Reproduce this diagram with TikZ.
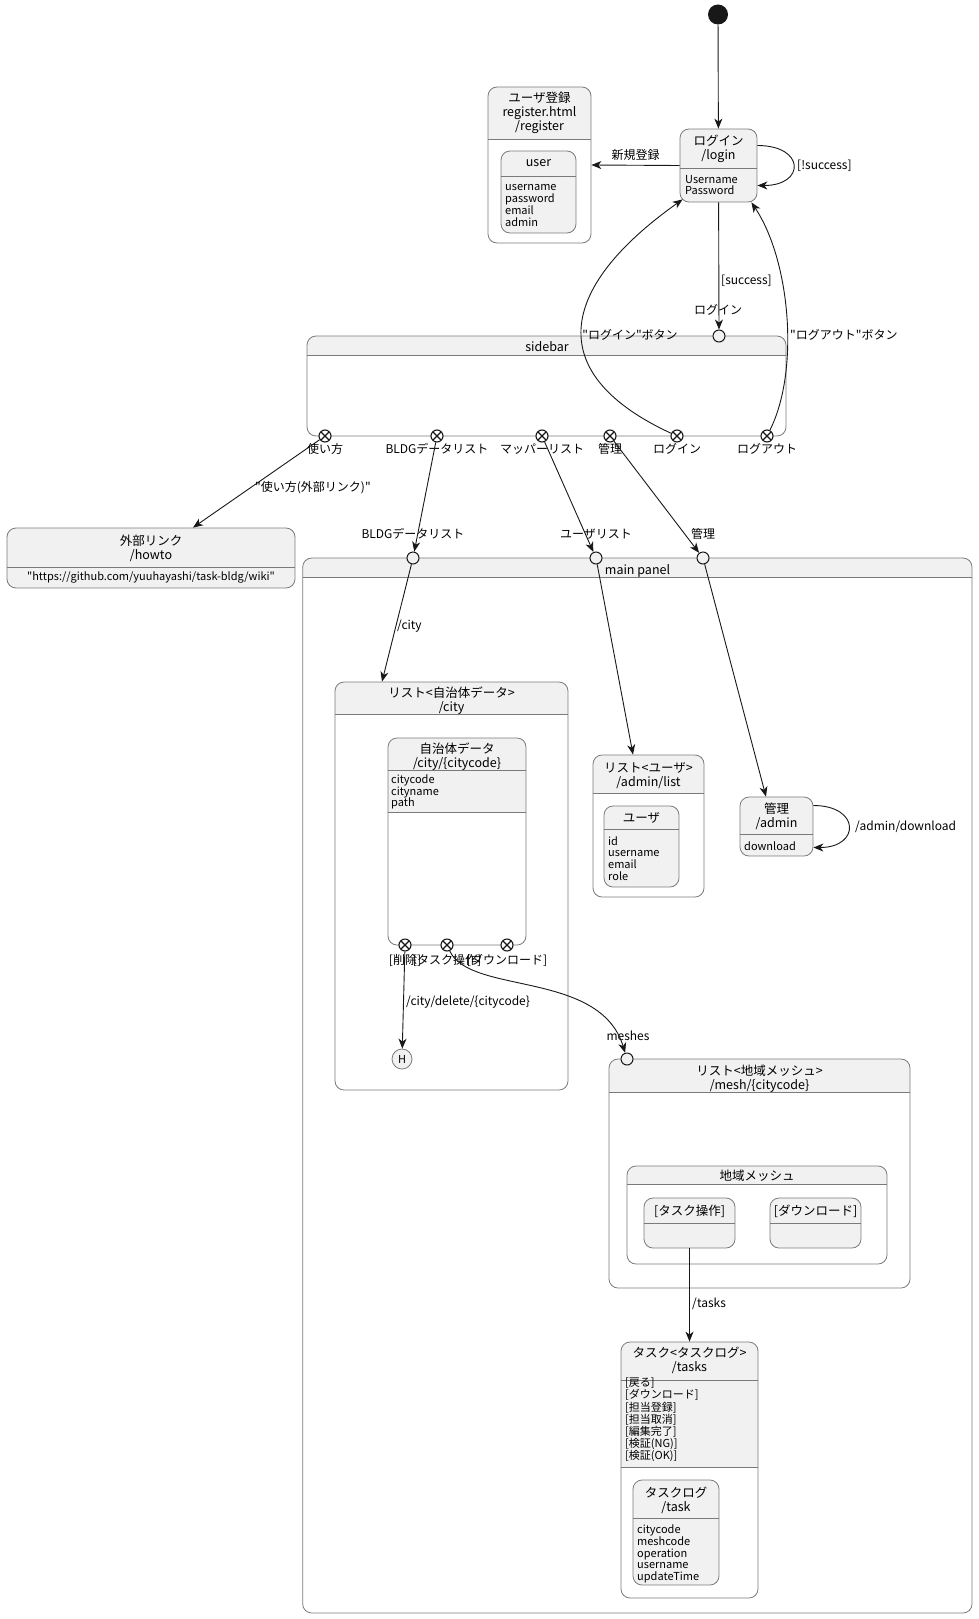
\documentclass[tikz,border=0pt]{standalone}
\usepackage{fontspec}
\setmainfont{Noto Sans CJK JP}[Ligatures=TeXOff]
\usetikzlibrary{arrows.meta, fit}
\definecolor{stfill}{HTML}{F1F1F1}
\definecolor{stedge}{HTML}{7A7A7A}
\definecolor{flowink}{HTML}{181818}
\tikzset{
  stframe/.style = {draw=stedge, line width=0.8pt, rounded corners=9pt, inner sep=0pt},
  stsep/.style   = {draw=stedge, line width=0.8pt},
}
% straight double quote
\newcommand{\dq}{\symbol{34}}
% name, left, top, right, bottom, fill down to, separator
\newcommand{\statebox}[7]{%
  \begin{scope}
    \clip[rounded corners=9pt] (#2,#3) rectangle (#4,#5);
    \fill[stfill] (#2,#3) rectangle (#4,#6);
  \end{scope}
  \draw[stsep] (#2,#7) -- (#4,#7);
  \node[stframe, fit={(#2,#3) (#4,#5)}] (#1) {};
}

\begin{document}
\begin{tikzpicture}[
    x=1pt, y=-1pt,
    >={Stealth[length=10pt, width=8pt, inset=3pt]},
    every node/.style={font=\fontsize{12}{14}\selectfont},
    title/.style  ={align=center, inner sep=0pt, font=\fontsize{12.5}{14}\selectfont},
    attr/.style   ={align=left, anchor=west, inner sep=0pt, font=\fontsize{11}{11.8}\selectfont},
    lbl/.style    ={inner sep=0pt, font=\fontsize{12}{14}\selectfont},
    initdot/.style={circle, fill=flowink, minimum size=20pt, inner sep=0pt},
    histnode/.style={circle, draw=stedge, line width=0.8pt, fill=stfill, minimum size=20pt,
                    inner sep=0pt, font=\fontsize{11}{12}\selectfont},
    entry/.style  ={circle, draw=flowink, line width=1pt, fill=stfill, minimum size=12pt, inner sep=0pt},
    exitpt/.style ={circle, draw=flowink, line width=1.1pt, fill=white, minimum size=12pt, inner sep=0pt,
                    path picture={\draw[line width=1.1pt]
                      (path picture bounding box.north west) -- (path picture bounding box.south east)
                      (path picture bounding box.north east) -- (path picture bounding box.south west);}},
    flow/.style   ={->, line width=0.9pt, draw=flowink}
  ]
  \useasboundingbox (0,0) rectangle (979,1619);

  %% --- Outer panels ---------------------------------------------------
  \statebox{sidebar}{307}{336}{786}{436}{355}{355}
  \node[title] (sidebart) at (547,347) {sidebar};
  \statebox{mainpanel}{302.7}{558}{972}{1613}{577}{577}
  \node[title] (mainpanelt) at (637.5,571) {main panel};

  %% --- Login and registration ------------------------------------------
  \node[initdot] (start) at (718,14.5) {};
  \statebox{login}{680}{129}{757}{202}{202}{168}
  \node[title] (logint) at (718.5,149) {ログイン\\/login};
  \node[attr] (loginf) at (685,185) {Username\\Password};
  \statebox{register}{488}{87}{591}{243}{139}{139}
  \node[title] (registert) at (539.5,113) {ユーザ登録\\register.html\\/register};
  \statebox{user}{501}{151}{576}{233}{233}{176}
  \node[title] (usert) at (538.5,163) {user};
  \node[attr] (userf) at (505,205.5) {username\\password\\email\\admin};

  %% --- External link ----------------------------------------------------
  \statebox{howto}{7}{528}{295}{588}{588}{567}
  \node[title] (howtot) at (151,548) {外部リンク\\/howto};
  \node[attr, anchor=center] (howtof) at (151,577) {\dq https://github.com/yuuhayashi/task-bldg/wiki\dq};

  %% --- City list --------------------------------------------------------
  \statebox{citylist}{335}{682}{568}{1090}{714}{714}
  \node[title] (citylistt) at (451.5,701) {リスト<自治体データ>\\/city};
  \statebox{citydata}{388}{738}{526}{945}{812}{770}
  \draw[stsep] (388,812) -- (526,812);
  \node[title] (citydatat) at (457,757) {自治体データ\\/city/\{citycode\}};
  \node[attr] (citydataf) at (391,792) {citycode\\cityname\\path};
  \node[histnode] (hist) at (402,1059) {H};

  %% --- User list and admin ----------------------------------------------
  \statebox{userlist}{593}{755}{704}{897}{793}{793}
  \node[title] (userlistt) at (648.5,776) {リスト<ユーザ>\\/admin/list};
  \statebox{userent}{604}{806}{679}{887}{887}{829}
  \node[title] (userentt) at (641.5,818) {ユーザ};
  \node[attr] (userentf) at (608,858.5) {id\\username\\email\\role};
  \statebox{admin}{740}{797}{813}{856}{856}{834}
  \node[title] (admint) at (776.5,816) {管理\\/admin};
  \node[attr] (adminf) at (744,846) {download};

  %% --- Mesh list ---------------------------------------------------------
  \statebox{meshlist}{609}{1059}{910}{1288}{1092}{1092}
  \node[title] (meshlistt) at (759.5,1079) {リスト<地域メッシュ>\\/mesh/\{citycode\}};
  \statebox{meshgrp}{627}{1166}{887}{1264}{1184}{1184}
  \node[title] (meshgrpt) at (757,1176) {地域メッシュ};
  \statebox{mtask}{644}{1198}{735}{1248}{1248}{1223}
  \node[title] (mtaskt) at (689.5,1211) {[タスク操作]};
  \statebox{mdl}{770}{1198}{861}{1248}{1248}{1223}
  \node[title] (mdlt) at (815.5,1211) {[ダウンロード]};

  %% --- Tasks -------------------------------------------------------------
  \statebox{tasks}{621}{1342}{758}{1598}{1467}{1380}
  \draw[stsep] (621,1467) -- (758,1467);
  \node[title] (taskst) at (689.5,1360) {タスク<タスクログ>\\/tasks};
  \node[attr, font=\fontsize{11}{10.6}\selectfont] (tasksf) at (625,1420)
      {[戻る]\\{}[ダウンロード]\\{}[担当登録]\\{}[担当取消]\\{}[編集完了]\\{}[検証(NG)]\\{}[検証(OK)]};
  \statebox{tasklog}{633}{1480}{719}{1585}{1585}{1518}
  \node[title] (tasklogt) at (676,1500) {タスクログ\\/task};
  \node[attr] (tasklogf) at (637,1554) {citycode\\meshcode\\operation\\username\\updateTime};

  %% --- Ports -------------------------------------------------------------
  \node[entry] (loginin) at (719,336) {};
  \node[lbl] (loginin-l) at (718,310) {ログイン};
  \foreach \n/\x/\t in {howtox/325/使い方, bldgx/437/BLDGデータリスト, mapx/542/マッパーリスト,
                         kanrix/610/管理, loginx/677/ログイン, logoutx/767/ログアウト} {
    \node[exitpt] (\n) at (\x,436) {};
    \node[lbl] (\n-l) at (\x,449) {\t};
  }
  \foreach \n/\x/\t in {bldgin/413/BLDGデータリスト, userin/596/ユーザリスト, adminin/703/管理} {
    \node[entry] (\n) at (\x,558) {};
    \node[lbl] (\n-l) at (\x,534) {\t};
  }
  \foreach \n/\x/\t in {delx/405/{[削除]}, taskx/447/{[タスク操作]}, dlx/507/{[ダウンロード]}} {
    \node[exitpt] (\n) at (\x,945) {};
    \node[lbl] (\n-l) at (\x,960) {\t};
  }
  \node[entry] (meshin) at (627,1059) {};
  \node[lbl] (meshin-l) at (628,1036) {meshes};

  %% --- Transitions -------------------------------------------------------
  \draw[flow] (start) -- (login);
  \draw[flow] (login.west) -- (register.east)
      node[lbl, midway, above=4pt] (newreg) {新規登録};
  \draw[flow] ([yshift=20pt]login.east) .. controls +(48,0) and +(48,0) .. ([yshift=-20pt]login.east);
  \node[lbl, anchor=west] (nosucc) at (797,166) {[!success]};
  \draw[flow] (login) -- (loginin);
  \node[lbl, anchor=west] (succ) at (721,281) {[success]};
  \draw[flow] (loginx) .. controls (545,375) and (555,290) .. ([xshift=3pt,yshift=3pt]login.south west);
  \draw[flow] (logoutx) .. controls (800,370) and (790,260) .. ([xshift=-6pt]login.south east);
  \node[lbl] (btnlogin) at (630,335) {\dq ログイン\dq ボタン};
  \node[lbl, anchor=west] (btnlogout) at (790,335) {\dq ログアウト\dq ボタン};
  \draw[flow] (howtox) -- ([xshift=42pt]howto.north);
  \node[lbl, anchor=west] (howtolbl) at (255,488) {\dq 使い方(外部リンク)\dq};
  \draw[flow] (bldgx) -- (bldgin);
  \draw[flow] (mapx) -- (userin);
  \draw[flow] (kanrix) -- (adminin);
  \draw[flow] (bldgin) -- ([xshift=-69.5pt]citylist.north);
  \node[lbl, anchor=west] (citylbl) at (397,626) {/city};
  \draw[flow] (userin) -- ([xshift=-15.5pt]userlist.north);
  \draw[flow] (adminin) -- ([xshift=-10.5pt]admin.north);
  \draw[flow] ([yshift=21pt]admin.east) .. controls +(47,0) and +(47,0) .. ([yshift=-21pt]admin.east);
  \node[lbl, anchor=west] (dllbl) at (855,827) {/admin/download};
  \draw[flow] (delx) -- (hist);
  \node[lbl, anchor=west] (dellbl) at (406,1002) {/city/delete/\{citycode\}};
  \draw[flow] (taskx) .. controls (470,995) and (600,970) .. (meshin);
  \draw[flow] (mtask) -- (tasks);
  \node[lbl, anchor=west] (tasklbl) at (692,1304) {/tasks};
\end{tikzpicture}
\end{document}
